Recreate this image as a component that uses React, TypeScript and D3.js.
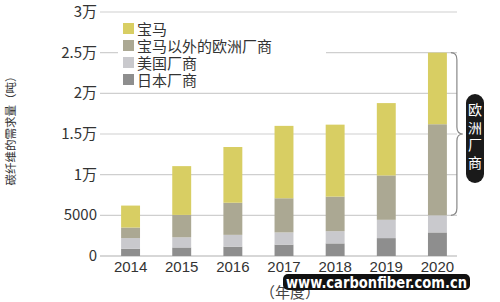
import React from "react";
import * as d3 from "d3";

const years = ["2014", "2015", "2016", "2017", "2018", "2019", "2020"];
const japan = [900, 1050, 1150, 1400, 1550, 2200, 2900];
const usa = [1300, 1250, 1450, 1500, 1500, 2250, 2100];
const euroOther = [1300, 2750, 3950, 4200, 4250, 5450, 11200];
const bmw = [2700, 6000, 6850, 8900, 8850, 8900, 8800];
const seriesNames = ["日本厂商", "美国厂商", "宝马以外的欧洲厂商", "宝马"];
const legendOrder = ["宝马", "宝马以外的欧洲厂商", "美国厂商", "日本厂商"];
const yTicks = [0, 5000, 10000, 15000, 20000, 25000, 30000];
const yTickLabels = ["0", "5000", "1万", "1.5万", "2万", "2.5万", "3万"];
const colors: Record<string, string> = {
  "宝马": "#d8ce63",
  "宝马以外的欧洲厂商": "#aba893",
  "美国厂商": "#c9c9cd",
  "日本厂商": "#8e8e8e",
};

const FONT_CJK = "'Noto Sans CJK SC', 'Liberation Sans', sans-serif";
const FONT_NUM = "'Liberation Sans', Arial, sans-serif";

export default function App() {
  const W = 500, H = 302;
  const y = d3.scaleLinear().domain([0, 30000]).range([256, 12]);
  const x = d3.scaleBand<string>().domain(years).range([105, 463]).paddingInner(0.63).paddingOuter(0.315);
  const table = years.map((yr, i) => ({
    year: yr,
    "日本厂商": japan[i],
    "美国厂商": usa[i],
    "宝马以外的欧洲厂商": euroOther[i],
    "宝马": bmw[i],
  }));
  const stacked = d3.stack<any>().keys(seriesNames)(table);
  const gridX0 = 100, gridX1 = 457;

  const last = years.length - 1;
  const topY = y(stacked[3][last][1]);
  const botY = y(stacked[2][last][0]);
  const midY = (topY + botY) / 2;
  const bx0 = (x(years[last]) as number) + x.bandwidth() + 4;
  const bx = bx0 + 6;
  const tip = bx + 6;
  const bracePath = `M${bx0},${topY} Q${bx},${topY} ${bx},${topY + 7} L${bx},${midY - 7} Q${bx},${midY} ${tip},${midY} Q${bx},${midY} ${bx},${midY + 7} L${bx},${botY - 7} Q${bx},${botY} ${bx0},${botY}`;

  const euroLabel = "欧洲厂商".split("");

  return (
    <svg width={W} height={H} style={{ position: "absolute", left: 0, top: 0, background: "#fff" }}>
      <rect x={0} y={0} width={W} height={H} fill="#fff" />
      {yTicks.map((t) => (
        <line key={t} x1={gridX0} x2={gridX1} y1={y(t)} y2={y(t)} stroke={t === 0 ? "#b0b0b0" : "#cfcfcf"} strokeWidth={1.2} />
      ))}
      {yTicks.map((t, i) => (
        <text key={"l" + t} x={97} y={y(t) + 5} textAnchor="end" fontSize={15} fill="#333" fontFamily={FONT_CJK}>
          {yTickLabels[i]}
        </text>
      ))}
      <text transform={`translate(15,128) rotate(-90)`} textAnchor="middle" fontSize={11.5} fill="#333" fontFamily={FONT_CJK}>
        碳纤维的需求量（吨）
      </text>
      <rect x={118} y={19} width={208} height={70} fill="#fff" />
      {legendOrder.map((name, i) => (
        <g key={name} transform={`translate(123,${29 + i * 17})`}>
          <rect x={0} y={-6} width={11} height={11} fill={colors[name]} />
          <text x={14} y={5.5} fontSize={15} fill="#333" fontFamily={FONT_CJK}>
            {name}
          </text>
        </g>
      ))}
      {stacked.map((s) => (
        <g key={s.key} fill={colors[s.key as string]}>
          {s.map((d, i) => (
            <rect key={i} x={x(years[i])} y={y(d[1])} width={x.bandwidth()} height={y(d[0]) - y(d[1])} />
          ))}
        </g>
      ))}
      {years.map((yr) => (
        <text key={yr} x={(x(yr) as number) + x.bandwidth() / 2} y={272} textAnchor="middle" fontSize={15} fill="#333" fontFamily={FONT_NUM}>
          {yr}
        </text>
      ))}
      <text x={260} y={298} fontSize={15} fill="#444" fontFamily={FONT_CJK}>
        （年度）
      </text>
      <path d={bracePath} fill="none" stroke="#888" strokeWidth={1.2} />
      <rect x={466} y={94} width={18} height={89} rx={9} fill="#1a1a1a" />
      <text fontSize={14} fill="#fff" fontFamily={FONT_CJK} textAnchor="middle">
        {euroLabel.map((c, i) => (
          <tspan key={i} x={475} y={115 + i * 17.7}>
            {c}
          </tspan>
        ))}
      </text>
      <rect x={283} y={274} width={187} height={16} rx={5} fill="#111" />
      <text x={286} y={287.5} fontSize={15.5} fontWeight="bold" fill="#fff" fontFamily="'Liberation Sans Narrow', 'DejaVu Sans Condensed', sans-serif" textLength={181} lengthAdjust="spacingAndGlyphs">
        www.carbonfiber.com.cn
      </text>
    </svg>
  );
}
